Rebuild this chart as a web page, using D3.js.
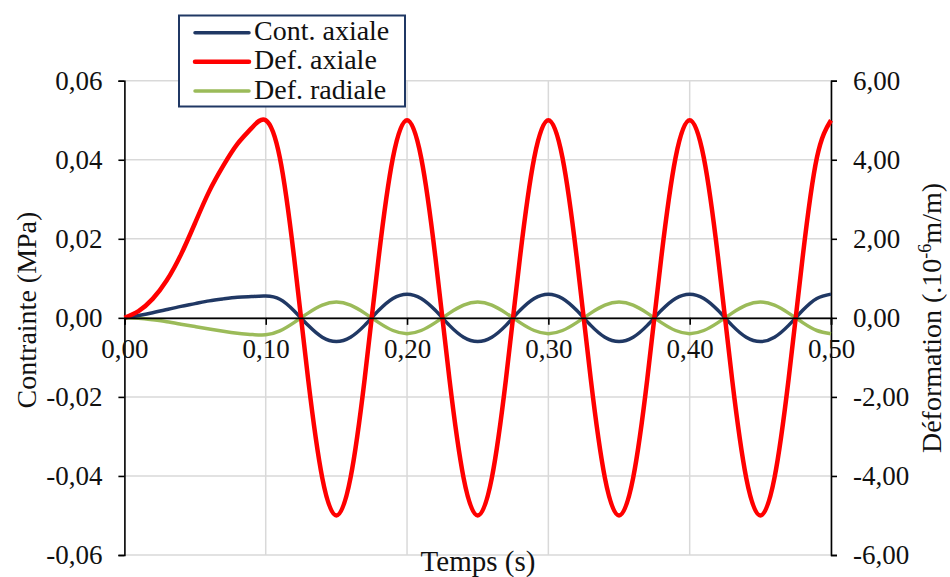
<!DOCTYPE html>
<html><head><meta charset="utf-8">
<script src="https://cdn.jsdelivr.net/npm/d3@7"></script>
<style>body{margin:0;background:#fff}svg{display:block}text{font-family:"Liberation Serif","Times New Roman",serif;fill:#111}</style>
</head><body>
<svg id="c" width="950" height="577"></svg>
<script>
// time samples (s)
const time = [0.00,0.01,0.02,0.03,0.04,0.05,0.06,0.07,0.08,0.09,
  0.10,0.11,0.12,0.13,0.14,0.15,0.16,0.17,0.18,0.19,
  0.20,0.21,0.22,0.23,0.24,0.25,0.26,0.27,0.28,0.29,
  0.30,0.31,0.32,0.33,0.34,0.35,0.36,0.37,0.38,0.39,
  0.40,0.41,0.42,0.43,0.44,0.45,0.46,0.47,0.48,0.49,0.50];
// Cont. axiale (MPa) - left axis
const contAxiale = [0,0.0006,0.0013,0.0021,0.0029,0.0036,0.0043,0.0048,0.0052,0.0054,
  0.0055,0.0047,0.0018,-0.0019,-0.0049,-0.006,-0.0049,-0.0019,0.0019,0.0049,
  0.006,0.0049,0.0019,-0.0019,-0.0049,-0.006,-0.0049,-0.0019,0.0019,0.0049,
  0.006,0.0049,0.0019,-0.0019,-0.0049,-0.006,-0.0049,-0.0019,0.0019,0.0049,
  0.006,0.0049,0.0019,-0.0019,-0.0049,-0.006,-0.0049,-0.0019,0.0019,0.0049,0.006];
// Def. axiale (1e-6 m/m) - right axis
const defAxiale = [0,0.17,0.48,0.95,1.6,2.4,3.2,3.85,4.4,4.8,
  5.0,4.05,1.55,-1.55,-4.05,-5.0,-4.05,-1.55,1.55,4.05,
  5.0,4.05,1.55,-1.55,-4.05,-5.0,-4.05,-1.55,1.55,4.05,
  5.0,4.05,1.55,-1.55,-4.05,-5.0,-4.05,-1.55,1.55,4.05,
  5.0,4.05,1.55,-1.55,-4.05,-5.0,-4.05,-1.55,1.55,4.05,5.0];
// Def. radiale (1e-6 m/m) - right axis
const defRadiale = [0,-0.01,-0.05,-0.10,-0.16,-0.22,-0.28,-0.34,-0.39,-0.42,
  -0.43,-0.33,-0.12,0.12,0.32,0.40,0.32,0.12,-0.12,-0.32,
  -0.40,-0.32,-0.12,0.12,0.32,0.40,0.32,0.12,-0.12,-0.32,
  -0.40,-0.32,-0.12,0.12,0.32,0.40,0.32,0.12,-0.12,-0.32,
  -0.40,-0.32,-0.12,0.12,0.32,0.40,0.32,0.12,-0.12,-0.32,-0.40];
const xTicks = [0,0.1,0.2,0.3,0.4,0.5];
const leftTicks = [-0.06,-0.04,-0.02,0,0.02,0.04,0.06];
const rightTicks = [-6,-4,-2,0,2,4,6];
const seriesNames = ["Cont. axiale","Def. axiale","Def. radiale"];
const seriesColors = ["#203864","#ff0000","#9bbb59"];

const svg = d3.select("#c");
const L=124.4, R=831, T=80.7, B=555;
const x = d3.scaleLinear().domain([0,0.5]).range([L,R]);
const yL = d3.scaleLinear().domain([-0.06,0.06]).range([B,T]);
const yR = d3.scaleLinear().domain([-6,6]).range([B,T]);
const fmt = d3.format(".2f");
const comma = v => fmt(v).replace(".",",").replace("−","-");

// gridlines
const grid = svg.append("g");
grid.selectAll(".h").data(leftTicks).enter().append("line")
  .attr("x1",L).attr("x2",R).attr("y1",d=>yL(d)).attr("y2",d=>yL(d))
  .attr("stroke","#d9d9d9").attr("stroke-width",1.5);
grid.selectAll(".v").data(xTicks.slice(1)).enter().append("line")
  .attr("y1",T).attr("y2",B).attr("x1",d=>x(d)).attr("x2",d=>x(d))
  .attr("stroke","#d9d9d9").attr("stroke-width",1.5);

// axes
const axStyle = g => { g.select(".domain").attr("stroke","#000").attr("stroke-width",1.6);
  g.selectAll(".tick line").attr("stroke","#000").attr("stroke-width",1.6);
  g.selectAll("text").style("font-size","27px").style("font-family","Liberation Serif").attr("fill","#111"); };
svg.append("g").attr("transform",`translate(${L},0)`)
  .call(d3.axisLeft(yL).tickValues(leftTicks).tickFormat(comma).tickSizeOuter(0).tickSize(6).tickPadding(16))
  .call(axStyle);
svg.append("g").attr("transform",`translate(${R},0)`)
  .call(d3.axisRight(yR).tickValues(rightTicks).tickFormat(comma).tickSizeOuter(0).tickSize(6).tickPadding(16))
  .call(axStyle);

// lines
const curve = d3.curveNatural;
const mk = (vals, ys) => d3.line().x((d,i)=>x(time[i])).y(d=>ys(d)).curve(curve)(vals);
const paths = [[contAxiale,yL],[defAxiale,yR],[defRadiale,yR]];
const widths = [3.5,4.5,3.5];
[2,0,1].forEach(k=>{
  svg.append("path").attr("d",mk(paths[k][0],paths[k][1])).attr("fill","none")
    .attr("stroke",seriesColors[k]).attr("stroke-width",widths[k]).attr("stroke-linejoin","round");
});

// x axis at zero
svg.append("g").attr("transform",`translate(0,${yL(0)})`)
  .call(d3.axisBottom(x).tickValues(xTicks).tickFormat(comma).tickSizeOuter(0).tickSize(7).tickPadding(14))
  .call(axStyle);

// titles
svg.append("text").attr("x",478).attr("y",571).attr("text-anchor","middle").style("font-size","29px").text("Temps (s)");
svg.append("text").attr("transform",`translate(36,310) rotate(-90)`).attr("text-anchor","middle").style("font-size","28px").text("Contrainte (MPa)");
const rt = svg.append("text").attr("transform",`translate(941,318) rotate(-90)`).attr("text-anchor","middle").style("font-size","28px");
rt.append("tspan").text("Déformation (.10");
rt.append("tspan").attr("dy",-10).style("font-size","18px").text("-6");
rt.append("tspan").attr("dy",10).text("m/m)");

// legend
const lg = svg.append("g");
lg.append("rect").attr("x",179).attr("y",15.5).attr("width",226).attr("height",91)
  .attr("fill","#fff").attr("stroke","#203864").attr("stroke-width",2);
const ly = [32.7,61.7,91];
seriesNames.forEach((n,i)=>{
  lg.append("line").attr("x1",195).attr("x2",249).attr("y1",ly[i]).attr("y2",ly[i])
    .attr("stroke",seriesColors[i]).attr("stroke-width",widths[i]).attr("stroke-linecap","round");
  lg.append("text").attr("x",254).attr("y",ly[i]+7.5).style("font-size","28px").text(n);
});
</script>
</body></html>
